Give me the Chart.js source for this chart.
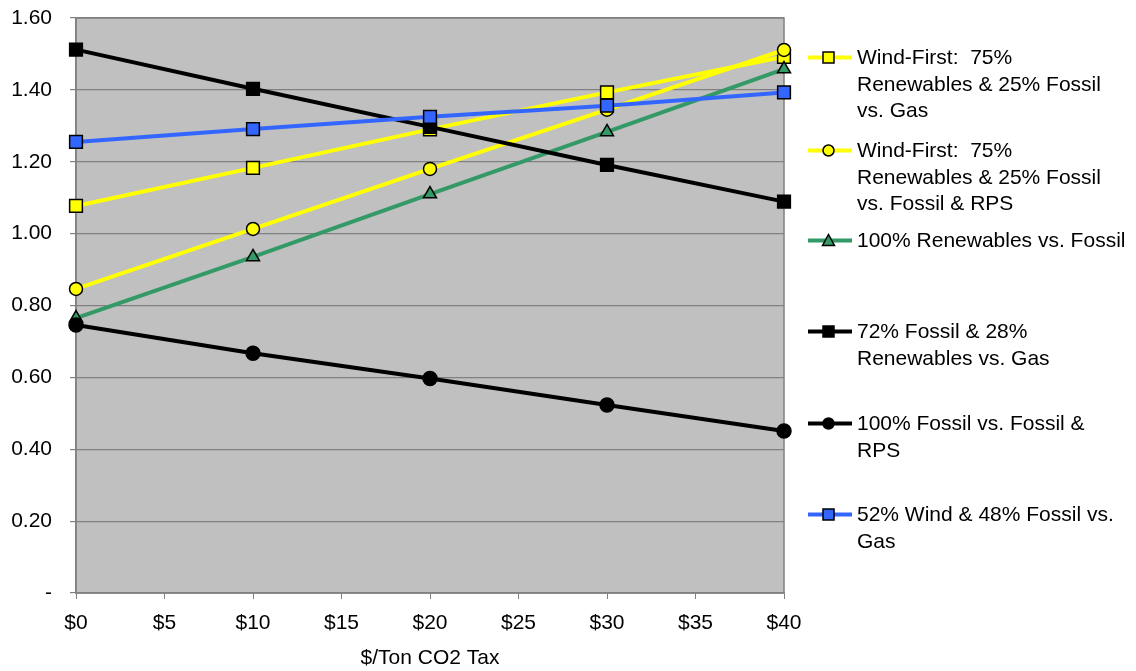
<!DOCTYPE html>
<html lang="en">

<head>
    <meta charset="UTF-8">
    <title>CO2 Tax Ratios</title>
    <script src="https://cdn.jsdelivr.net/npm/chart.js"></script>
    <style>
        body {
            margin: 0;
            background: #ffffff;
        }

        .wrap {
            position: relative;
            width: 1136px;
            height: 671px;
        }

        #legend {
            position: absolute;
            left: 0;
            top: 0;
            font-family: "Liberation Sans", Arial, sans-serif;
            font-size: 21px;
            color: #000;
        }

        .item {
            position: absolute;
            left: 806px;
            white-space: pre;
            line-height: 26.5px;
        }

        .item svg {
            position: absolute;
            left: 0;
            top: 0;
        }

        .item span {
            display: block;
            margin-left: 51px;
        }
    </style>
</head>

<body>
    <div class="wrap">
        <canvas id="chart" width="1136" height="671"></canvas>
        <div id="legend"></div>
    </div>

    <script>
        // x values ($/ton) and series
        const taxLevels = [0, 10, 20, 30, 40];
        const windFirstVsGas = [1.077, 1.183, 1.290, 1.393, 1.492];
        const windFirstVsFossilRps = [0.846, 1.013, 1.180, 1.345, 1.511];
        const renewablesVsFossil = [0.765, 0.935, 1.110, 1.283, 1.458];
        const fossil72VsGas = [1.512, 1.403, 1.297, 1.191, 1.089];
        const fossil100VsFossilRps = [0.746, 0.667, 0.597, 0.523, 0.451];
        const wind52VsGas = [1.255, 1.291, 1.325, 1.356, 1.393];

        const seriesLabels = [
            'Wind-First:  75%\nRenewables & 25% Fossil\nvs. Gas',
            'Wind-First:  75%\nRenewables & 25% Fossil\nvs. Fossil & RPS',
            '100% Renewables vs. Fossil',
            '72% Fossil & 28%\nRenewables vs. Gas',
            '100% Fossil vs. Fossil &\nRPS',
            '52% Wind & 48% Fossil vs.\nGas'
        ];
        const seriesValues = [windFirstVsGas, windFirstVsFossilRps, renewablesVsFossil,
            fossil72VsGas, fossil100VsFossilRps, wind52VsGas];

        const lineColors = ['#ffff00', '#ffff00', '#339966', '#000000', '#000000', '#3366ff'];
        const markerFill = ['#ffff00', '#ffff00', '#339966', '#000000', '#000000', '#3366ff'];
        const markerStyle = ['rect', 'circle', 'triangle', 'rect', 'circle', 'rect'];
        const markerRadius = [9, 6.5, 7.5, 9, 7, 9];
        const legendTops = [44, 137, 227, 318, 410, 501];

        const FONT = "'Liberation Sans', Arial, sans-serif";

        const plotFrame = {
            id: 'plotFrame',
            beforeDraw(chart) {
                const { ctx, chartArea: a } = chart;
                ctx.save();
                ctx.fillStyle = '#c0c0c0';
                ctx.fillRect(a.left, a.top, a.right - a.left, a.bottom - a.top);
                ctx.restore();
            },
            beforeDatasetsDraw(chart) {
                const { ctx, chartArea: a } = chart;
                ctx.save();
                ctx.strokeStyle = '#808080';
                ctx.lineWidth = 1.5;
                ctx.strokeRect(a.left, a.top, a.right - a.left, a.bottom - a.top);
                ctx.restore();
            }
        };

        const datasets = seriesValues.map((vals, i) => ({
            label: seriesLabels[i],
            data: taxLevels.map((x, j) => ({ x: x, y: vals[j] })),
            borderColor: lineColors[i],
            borderWidth: 4,
            pointStyle: markerStyle[i],
            pointRadius: markerRadius[i],
            pointBackgroundColor: markerFill[i],
            pointBorderColor: '#000000',
            pointBorderWidth: 1.5,
            tension: 0,
            order: seriesValues.length - i
        }));

        new Chart(document.getElementById('chart'), {
            type: 'line',
            data: { datasets: datasets },
            plugins: [plotFrame],
            options: {
                responsive: false,
                animation: false,
                clip: false,
                layout: { padding: { top: 18, right: 352, bottom: 0, left: 0 } },
                plugins: {
                    legend: { display: false },
                    tooltip: { enabled: false }
                },
                scales: {
                    x: {
                        type: 'linear',
                        min: 0,
                        max: 40,
                        afterFit: s => { s.height = 78; },
                        ticks: {
                            stepSize: 5,
                            padding: 12,
                            color: '#000',
                            font: { family: FONT, size: 21 },
                            callback: v => '$' + v
                        },
                        grid: {
                            drawOnChartArea: false,
                            drawTicks: true,
                            tickLength: 6,
                            color: '#808080'
                        },
                        border: { color: '#808080', width: 1.5 },
                        title: {
                            display: true,
                            text: '$/Ton CO2 Tax',
                            color: '#000',
                            font: { family: FONT, size: 21 },
                            padding: { top: 0, bottom: 0 }
                        }
                    },
                    y: {
                        min: 0,
                        max: 1.6,
                        afterFit: s => {
                            s.width = 76;
                            s.paddingTop = 0;
                            s.paddingBottom = 0;
                        },
                        ticks: {
                            stepSize: 0.2,
                            padding: 18,
                            color: '#000',
                            font: { family: FONT, size: 21 },
                            callback: v => Math.abs(v) < 1e-9 ? '-' : v.toFixed(2)
                        },
                        grid: {
                            color: '#808080',
                            lineWidth: 1.2,
                            tickLength: 6
                        },
                        border: { color: '#808080', width: 1.5 }
                    }
                }
            }
        });

        // HTML legend on the right
        const legend = document.getElementById('legend');
        seriesLabels.forEach((label, i) => {
            const item = document.createElement('div');
            item.className = 'item';
            item.style.top = legendTops[i] + 'px';
            const cy = 13.5;
            let marker = '';
            if (markerStyle[i] === 'rect') {
                marker = `<rect x="17" y="${cy - 5.5}" width="11" height="11" fill="${markerFill[i]}" stroke="#000" stroke-width="1.5"/>`;
            } else if (markerStyle[i] === 'circle') {
                marker = `<circle cx="22.5" cy="${cy}" r="5.5" fill="${markerFill[i]}" stroke="#000" stroke-width="1.5"/>`;
            } else {
                marker = `<polygon points="22.5,${cy - 6} 28.5,${cy + 5} 16.5,${cy + 5}" fill="${markerFill[i]}" stroke="#000" stroke-width="1.5"/>`;
            }
            item.innerHTML = `<svg width="48" height="27"><line x1="2" y1="${cy}" x2="46" y2="${cy}" stroke="${lineColors[i]}" stroke-width="4"/>${marker}</svg><span></span>`;
            item.querySelector('span').textContent = label;
            legend.appendChild(item);
        });
    </script>
</body>

</html>
